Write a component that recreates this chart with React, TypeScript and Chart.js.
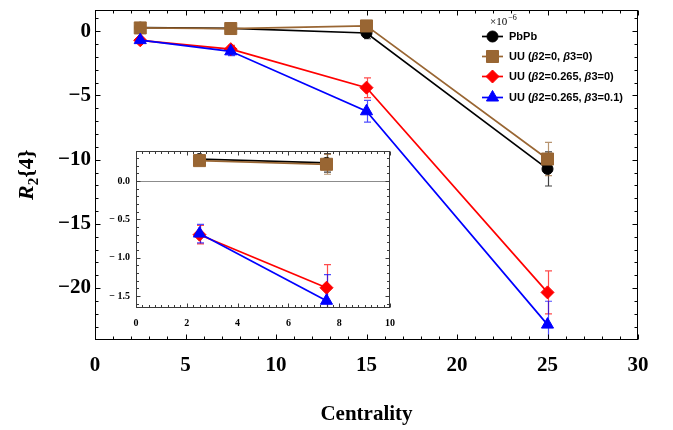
import React, { useEffect, useRef } from 'react';
import { Chart, registerables } from 'chart.js';
import { drawPoint } from 'chart.js/helpers';

Chart.register(...registerables);

// Centrality bins (%) and R2{4} values (×10^-6) with statistical errors
const centrality = [2.5, 7.5, 15, 25];
const pbpb = [0.285, 0.235, -0.13, -10.72];
const pbpbErr = [0.03, 0.12, 0.45, 1.33];
const uuSpherical = [0.265, 0.217, 0.42, -9.95];
const uuSphericalErr = [0.02, 0.13, 0.35, 1.29];
const uuBeta2 = [-0.7, -1.39, -4.39, -20.34];
const uuBeta2Err = [0.12, 0.3, 0.77, 1.67];
const uuBeta23 = [-0.685, -1.56, -6.23, -22.85];
const uuBeta23Err = [0.12, 0.34, 0.85, 1.82];

// Tick labels
const xTicksMain = [0, 5, 10, 15, 20, 25, 30];
const yTicksMain = [-20, -15, -10, -5, 0];
const xTicksInset = [0, 2, 4, 6, 8, 10];
const yTicksInset = [-1.5, -1, -0.5, 0];

// The inset zooms into the most central bins
const insetBins = 2;

type Part = [string, boolean];

const series: {
  parts: Part[];
  color: string;
  errColor: string;
  style: string;
  radius: number;
  values: number[];
  errors: number[];
}[] = [
  {
    parts: [['PbPb', false]],
    color: '#000000',
    errColor: 'rgba(0,0,0,0.75)',
    style: 'circle',
    radius: 5.5,
    values: pbpb,
    errors: pbpbErr,
  },
  {
    parts: [['UU (', false], ['\u03b2', true], ['2=0, ', false], ['\u03b2', true], ['3=0)', false]],
    color: '#996633',
    errColor: 'rgba(153,102,51,0.7)',
    style: 'rect',
    radius: 8.5,
    values: uuSpherical,
    errors: uuSphericalErr,
  },
  {
    parts: [['UU (', false], ['\u03b2', true], ['2=0.265, ', false], ['\u03b2', true], ['3=0)', false]],
    color: '#ff0000',
    errColor: 'rgba(255,0,0,0.7)',
    style: 'rectRot',
    radius: 6.5,
    values: uuBeta2,
    errors: uuBeta2Err,
  },
  {
    parts: [['UU (', false], ['\u03b2', true], ['2=0.265, ', false], ['\u03b2', true], ['3=0.1)', false]],
    color: '#0000ff',
    errColor: 'rgba(0,0,255,0.7)',
    style: 'triangle',
    radius: 7,
    values: uuBeta23,
    errors: uuBeta23Err,
  },
];

const SERIF = "'Liberation Serif', 'DejaVu Serif', 'Times New Roman', serif";
const SANS = "'Liberation Sans', Arial, Helvetica, sans-serif";

const minus = (v: number) => (v < 0 ? '\u2212' + Math.abs(v) : String(v));
const minusSpaced = (v: number) =>
  v < 0 ? '\u2212 ' + Math.abs(v).toFixed(1) : v.toFixed(1);

function buildDatasets(count: number) {
  return series.map((s, si) => ({
    label: s.parts.map((p) => p[0]).join(''),
    data: centrality.slice(0, count).map((x, i) => ({ x, y: s.values[i] })),
    errors: s.errors.slice(0, count),
    errColor: s.errColor,
    showLine: true,
    borderColor: s.color,
    borderWidth: 1.7,
    backgroundColor: s.color,
    pointBackgroundColor: s.color,
    pointBorderColor: s.color,
    pointBorderWidth: 1,
    pointStyle: s.style,
    pointRadius: s.radius,
    pointHoverRadius: s.radius,
    order: series.length - si,
  }));
}

// Vertical error bars with caps, drawn beneath the markers
const errorBarsPlugin = {
  id: 'errorBars',
  beforeDatasetsDraw(chart: any, _args: any, opts: any) {
    const { ctx, chartArea: a } = chart;
    const xs = chart.scales.x;
    const ys = chart.scales.y;
    const cap = opts.cap ?? 3.5;
    ctx.save();
    ctx.beginPath();
    ctx.rect(a.left, a.top, a.right - a.left, a.bottom - a.top);
    ctx.clip();
    ctx.lineWidth = 1.2;
    chart.data.datasets.forEach((ds: any) => {
      ctx.strokeStyle = ds.errColor;
      ds.data.forEach((p: any, i: number) => {
        const e = ds.errors[i];
        const px = Math.round(xs.getPixelForValue(p.x)) + 0.5;
        const top = ys.getPixelForValue(p.y + e);
        const bot = ys.getPixelForValue(p.y - e);
        ctx.beginPath();
        ctx.moveTo(px, top);
        ctx.lineTo(px, bot);
        ctx.moveTo(px - cap, top);
        ctx.lineTo(px + cap, top);
        ctx.moveTo(px - cap, bot);
        ctx.lineTo(px + cap, bot);
        ctx.stroke();
      });
    });
    ctx.restore();
  },
};

// Boxed frame with inward major/minor ticks on all four sides
const framePlugin = {
  id: 'frame',
  afterDraw(chart: any, _args: any, opts: any) {
    const { ctx, chartArea: a } = chart;
    const xs = chart.scales.x;
    const ys = chart.scales.y;
    const L = Math.round(a.left) + 0.5;
    const R = Math.round(a.right) - 0.5;
    const T = Math.round(a.top) + 0.5;
    const B = Math.round(a.bottom) - 0.5;
    ctx.save();
    ctx.strokeStyle = opts.color;
    ctx.lineWidth = 1;

    const collect = (scale: any, majors: number[], step: number) => {
      const out: { v: number; len: number }[] = majors.map((v) => ({ v, len: opts.major }));
      const k0 = Math.ceil(scale.min / step - 1e-9);
      const k1 = Math.floor(scale.max / step + 1e-9);
      for (let k = k0; k <= k1; k++) {
        const v = k * step;
        if (!majors.some((m) => Math.abs(m - v) < 1e-6)) out.push({ v, len: opts.minor });
      }
      return out;
    };

    ctx.beginPath();
    collect(xs, opts.xMajor, opts.xMinor).forEach(({ v, len }) => {
      const px = Math.round(xs.getPixelForValue(v)) + 0.5;
      ctx.moveTo(px, B);
      ctx.lineTo(px, B - len);
      ctx.moveTo(px, T);
      ctx.lineTo(px, T + len);
    });
    collect(ys, opts.yMajor, opts.yMinor).forEach(({ v, len }) => {
      const py = Math.round(ys.getPixelForValue(v)) + 0.5;
      ctx.moveTo(L, py);
      ctx.lineTo(L + len, py);
      ctx.moveTo(R, py);
      ctx.lineTo(R - len, py);
    });
    ctx.stroke();
    ctx.strokeRect(L, T, R - L, B - T);
    ctx.restore();
  },
};

// Horizontal reference line at zero
const zeroLinePlugin = {
  id: 'zeroLine',
  beforeDatasetsDraw(chart: any, _args: any, opts: any) {
    const { ctx, chartArea: a } = chart;
    const py = Math.round(chart.scales.y.getPixelForValue(0)) + 0.5;
    ctx.save();
    ctx.strokeStyle = opts.color;
    ctx.lineWidth = 1;
    ctx.beginPath();
    ctx.moveTo(a.left, py);
    ctx.lineTo(a.right, py);
    ctx.stroke();
    ctx.restore();
  },
};

// Legend with mixed upright/italic text and the ×10^-6 multiplier
const legendPlugin = {
  id: 'seriesLegend',
  afterDraw(chart: any) {
    const { ctx, chartArea: a } = chart;
    const x0 = a.right - 156;
    const rows = [27, 47, 67, 88];
    ctx.save();
    ctx.fillStyle = '#000';
    ctx.textBaseline = 'alphabetic';
    ctx.font = `11px ${SERIF}`;
    ctx.fillText('\u00d710', x0 + 8, a.top + 15);
    const w10 = ctx.measureText('\u00d710').width;
    ctx.font = `8px ${SERIF}`;
    ctx.fillText('\u22126', x0 + 8 + w10 + 1, a.top + 10);

    series.forEach((s, i) => {
      const y = a.top + rows[i];
      ctx.strokeStyle = s.color;
      ctx.fillStyle = s.color;
      ctx.lineWidth = 1.7;
      ctx.beginPath();
      ctx.moveTo(x0, y);
      ctx.lineTo(x0 + 21, y);
      ctx.stroke();
      ctx.lineWidth = 1;
      drawPoint(ctx, { pointStyle: s.style, radius: s.radius, rotation: 0, borderWidth: 1 } as any, x0 + 10.5, y);
      ctx.fillStyle = '#000';
      ctx.textBaseline = 'middle';
      let tx = x0 + 27;
      s.parts.forEach(([text, italic]) => {
        ctx.font = `${italic ? 'italic ' : ''}bold 11px ${SANS}`;
        ctx.fillText(text, tx, y + 0.5);
        tx += ctx.measureText(text).width;
      });
    });
    ctx.restore();
  },
};

// Rotated y-axis title R_2{4}
const yTitlePlugin = {
  id: 'yTitle',
  afterDraw(chart: any) {
    const { ctx, chartArea: a } = chart;
    const big = `bold 22px ${SERIF}`;
    const bigItalic = `italic bold 22px ${SERIF}`;
    const small = `bold 15px ${SERIF}`;
    const segs: [string, string, number][] = [
      ['R', bigItalic, 0],
      ['2', small, 5],
      ['{4}', big, 0],
    ];
    ctx.save();
    let total = 0;
    segs.forEach(([t, f]) => {
      ctx.font = f;
      total += ctx.measureText(t).width;
    });
    ctx.translate(26, (a.top + a.bottom) / 2);
    ctx.rotate(-Math.PI / 2);
    ctx.fillStyle = '#000';
    ctx.textBaseline = 'alphabetic';
    let x = -total / 2;
    segs.forEach(([t, f, dy]) => {
      ctx.font = f;
      ctx.fillText(t, x, 7 + dy);
      x += ctx.measureText(t).width;
    });
    ctx.restore();
  },
};

function tickFont(size: number) {
  return { family: SERIF, size, weight: 'bold' as const };
}

// Keep the plot box exactly where the layout padding puts it, regardless of label overhang
const fixWidth = (w: number) => (s: any) => {
  s.width = w;
  s.paddingTop = 0;
  s.paddingBottom = 0;
};
const fixHeight = (h: number) => (s: any) => {
  s.height = h;
  s.paddingLeft = 0;
  s.paddingRight = 0;
};

export default function App() {
  const mainRef = useRef<HTMLCanvasElement>(null);
  const insetRef = useRef<HTMLCanvasElement>(null);

  useEffect(() => {
    if (!mainRef.current || !insetRef.current) return;

    const main = new Chart(mainRef.current, {
      type: 'scatter',
      data: { datasets: buildDatasets(centrality.length) as any },
      options: {
        responsive: false,
        animation: false,
        events: [],
        layout: { padding: { top: 5, right: 35, left: 0, bottom: 0 } },
        plugins: {
          legend: { display: false },
          tooltip: { enabled: false },
          errorBars: { cap: 3.5 },
          frame: {
            color: '#000',
            major: 5,
            minor: 3,
            xMajor: xTicksMain,
            yMajor: yTicksMain,
            xMinor: 1,
            yMinor: 1,
          },
        } as any,
        scales: {
          x: {
            type: 'linear',
            min: 0,
            max: 30,
            afterBuildTicks: (s: any) => {
              s.ticks = xTicksMain.map((value) => ({ value }));
            },
            afterFit: fixHeight(90),
            grid: { display: false, drawTicks: false },
            border: { display: false },
            ticks: {
              font: tickFont(21),
              color: '#000',
              padding: 13,
              maxRotation: 0,
              autoSkip: false,
              callback: (v: any) => minus(Number(v)),
            },
            title: {
              display: true,
              text: 'Centrality',
              color: '#000',
              font: tickFont(21),
              padding: { top: 0, bottom: 3 },
            },
          },
          y: {
            type: 'linear',
            min: -24.05,
            max: 1.7,
            afterBuildTicks: (s: any) => {
              s.ticks = yTicksMain.map((value) => ({ value }));
            },
            afterFit: fixWidth(95),
            grid: { display: false, drawTicks: false },
            border: { display: false },
            ticks: {
              font: tickFont(21),
              color: '#000',
              padding: 4,
              autoSkip: false,
              callback: (v: any) => minus(Number(v)),
            },
          },
        },
      },
      plugins: [errorBarsPlugin, framePlugin, legendPlugin, yTitlePlugin],
    });

    const inset = new Chart(insetRef.current, {
      type: 'scatter',
      data: { datasets: buildDatasets(insetBins) as any },
      options: {
        responsive: false,
        animation: false,
        events: [],
        layout: { padding: { top: 151, right: 283, left: 0, bottom: 0 } },
        plugins: {
          legend: { display: false },
          tooltip: { enabled: false },
          errorBars: { cap: 3.5 },
          zeroLine: { color: '#8c8c8c' },
          frame: {
            color: '#3a3a3a',
            major: 4,
            minor: 2.5,
            xMajor: xTicksInset,
            yMajor: yTicksInset,
            xMinor: 0.25,
            yMinor: 0.1,
          },
        } as any,
        scales: {
          x: {
            type: 'linear',
            min: 0,
            max: 10,
            afterBuildTicks: (s: any) => {
              s.ticks = xTicksInset.map((value) => ({ value }));
            },
            afterFit: fixHeight(122),
            grid: { display: false, drawTicks: false },
            border: { display: false },
            ticks: {
              font: tickFont(10),
              color: '#000',
              padding: 9,
              maxRotation: 0,
              autoSkip: false,
              callback: (v: any) => String(v),
            },
          },
          y: {
            type: 'linear',
            min: -1.654,
            max: 0.39,
            afterBuildTicks: (s: any) => {
              s.ticks = yTicksInset.map((value) => ({ value }));
            },
            afterFit: fixWidth(136),
            grid: { display: false, drawTicks: false },
            border: { display: false },
            ticks: {
              font: tickFont(10),
              color: '#000',
              padding: 6,
              autoSkip: false,
              callback: (v: any) => minusSpaced(Number(v)),
            },
          },
        },
      },
      plugins: [zeroLinePlugin, errorBarsPlugin, framePlugin],
    });

    return () => {
      main.destroy();
      inset.destroy();
    };
  }, []);

  return (
    <div
      style={{
        position: 'fixed',
        left: 0,
        top: 0,
        width: 673,
        height: 430,
        background: '#fff',
      }}
    >
      <canvas
        ref={mainRef}
        width={673}
        height={430}
        style={{ position: 'absolute', left: 0, top: 0, display: 'block' }}
      />
      <canvas
        ref={insetRef}
        width={673}
        height={430}
        style={{ position: 'absolute', left: 0, top: 0, display: 'block', pointerEvents: 'none' }}
      />
    </div>
  );
}
